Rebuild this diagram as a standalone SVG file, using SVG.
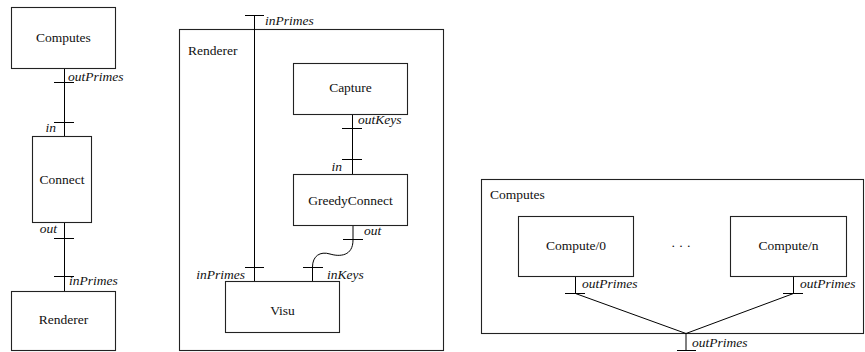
<svg xmlns="http://www.w3.org/2000/svg" width="865" height="352" viewBox="0 0 865 352">
<style>
.box{fill:#fff;stroke:#222;stroke-width:1.1}
.cont{fill:none;stroke:#222;stroke-width:1.1}
text{font-family:'Liberation Serif','DejaVu Serif',serif;font-size:13.5px;fill:#111}
.lbl{text-anchor:middle}
.port{font-style:italic}
.end{text-anchor:end}
.w{fill:none;stroke:#000;stroke-width:1}
</style>
<rect x="0" y="0" width="865" height="352" fill="#fff"/>

<g id="renderer-container">
<rect class="cont" x="179.5" y="29.5" width="264" height="321"/>
<text x="188" y="55" font-family="Liberation Serif, serif">Renderer</text>
</g>
<g id="computes-container">
<rect class="cont" x="481.5" y="179.5" width="382" height="154"/>
<text x="490" y="199" font-family="Liberation Serif, serif">Computes</text>
</g>

<g id="connectors">
<path class="w" d="M64.5,68 V136 M54,82.5 H74 M54,122.5 H74"/>
<path class="w" d="M64.5,222 V291 M54,238.5 H74 M54,276.5 H74"/>
<path class="w" d="M254.5,15 V281 M245,15.5 H264 M245,267.5 H264"/>
<path class="w" d="M352.5,114 V174 M342,128.5 H362 M342,159.5 H362"/>
<path class="w" d="M353,225 L353,240 C353,256 340,257 330,254 C320,251 312.5,256 312.5,267 L312.5,281"/>
<path class="w" d="M343,239.5 H363 M303,267.5 H323"/>
<path class="w" d="M575.5,276 V293 M565,293.5 H585 M793.5,276 V293 M783,293.5 H803"/>
<path class="w" d="M575.5,293.5 L686,333.5 L793.5,293.5 M686,333.5 V351 M677,350.5 H696"/>
</g>

<g id="port-labels" font-family="Liberation Serif, serif">
<text class="port" x="68" y="81">outPrimes</text>
<text class="port end" x="56" y="132">in</text>
<text class="port end" x="57" y="233">out</text>
<text class="port" x="69" y="285">inPrimes</text>
<text class="port" x="265" y="25">inPrimes</text>
<text class="port end" x="245" y="279">inPrimes</text>
<text class="port" x="358" y="124">outKeys</text>
<text class="port end" x="342" y="171">in</text>
<text class="port" x="364" y="235">out</text>
<text class="port" x="327" y="279">inKeys</text>
<text class="port" x="582" y="288">outPrimes</text>
<text class="port" x="800" y="288">outPrimes</text>
<text class="port" x="692" y="347">outPrimes</text>
</g>

<g id="computes">
<rect class="box" x="11.5" y="7.5" width="104" height="61"/>
<text class="lbl" x="63.5" y="42">Computes</text>
</g>
<g id="connect">
<rect class="box" x="32.5" y="136.5" width="59" height="86"/>
<text class="lbl" x="62" y="184">Connect</text>
</g>
<g id="renderer">
<rect class="box" x="11.5" y="291.5" width="104" height="59"/>
<text class="lbl" x="63.5" y="324">Renderer</text>
</g>
<g id="capture">
<rect class="box" x="293.5" y="63.5" width="114" height="51"/>
<text class="lbl" x="350.5" y="92">Capture</text>
</g>
<g id="greedyconnect">
<rect class="box" x="293.5" y="174.5" width="114" height="51"/>
<text class="lbl" x="350.5" y="205">GreedyConnect</text>
</g>
<g id="visu">
<rect class="box" x="225.5" y="281.5" width="114" height="51"/>
<text class="lbl" x="282.5" y="315">Visu</text>
</g>
<g id="compute0">
<rect class="box" x="518.5" y="216.5" width="115" height="60"/>
<text class="lbl" x="576" y="250">Compute/0</text>
</g>
<g id="computen">
<rect class="box" x="730.5" y="216.5" width="116" height="60"/>
<text class="lbl" x="788.5" y="250">Compute/n</text>
</g>
<g id="ellipsis">
<text class="lbl" x="681" y="250">· · ·</text>
</g>
</svg>
